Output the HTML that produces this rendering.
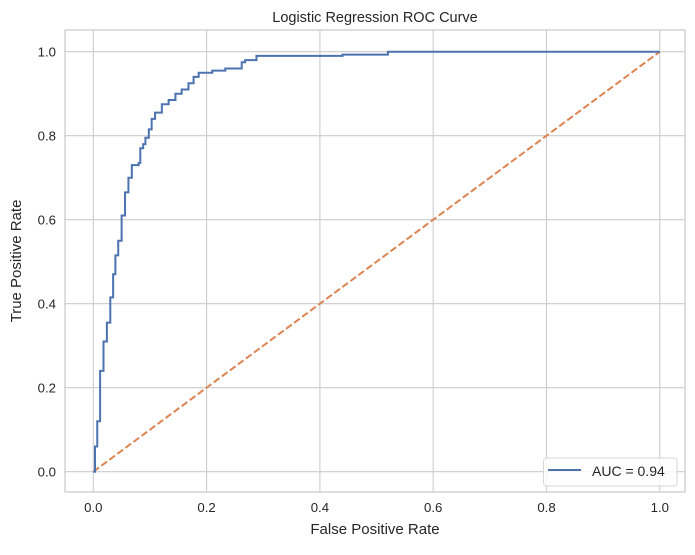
<!DOCTYPE html>
<html><head><meta charset="utf-8"><style>
body{margin:0;background:#fff;}
svg{font-family:"Liberation Sans","DejaVu Sans",sans-serif;}
</style></head><body>
<svg id="c" width="695" height="550"></svg>
<script>
const fpr=[0,0.003,0.007,0.012,0.018,0.024,0.03,0.035,0.039,0.044,0.05,0.056,0.062,0.068,0.08,0.083,0.088,0.092,0.098,0.103,0.109,0.121,0.133,0.145,0.156,0.168,0.177,0.186,0.21,0.233,0.262,0.268,0.288,0.44,0.52,1.0];
const tpr=[0,0.06,0.12,0.24,0.31,0.355,0.415,0.47,0.515,0.55,0.61,0.665,0.70,0.73,0.735,0.77,0.78,0.795,0.815,0.84,0.855,0.875,0.885,0.90,0.91,0.925,0.94,0.95,0.955,0.96,0.975,0.98,0.99,0.993,1.0,1.0];
const xTicks=[0,0.2,0.4,0.6,0.8,1.0];
const yTicks=[0,0.2,0.4,0.6,0.8,1.0];
const NS="http://www.w3.org/2000/svg",svg=document.getElementById('c');
const X=v=>93.3+v*566.5, Y=v=>471.7-v*420;
function mk(t,a,p){const e=document.createElementNS(NS,t);for(const k in a)e.setAttribute(k,a[k]);(p||svg).appendChild(e);return e;}
const fr=mk('rect',{x:65,y:30,width:620,height:462,fill:'#fff',stroke:'#cccccc','stroke-width':1.3});


xTicks.forEach(v=>{
 const g=mk('line',{x1:X(v),x2:X(v),y1:30,y2:492,stroke:'#cccccc','stroke-width':1.1});
 
 
 const t=mk('text',{x:X(v),y:512,'font-size':13.2,'text-anchor':'middle',fill:'#262626'});t.textContent=v.toFixed(1);
 
 
});
yTicks.forEach(v=>{
 const g=mk('line',{x1:65,x2:685,y1:Y(v),y2:Y(v),stroke:'#cccccc','stroke-width':1.1});
 
 
 const t=mk('text',{x:56,y:Y(v)+4.7,'font-size':13.2,'text-anchor':'end',fill:'#262626'});t.textContent=v.toFixed(1);
 
 
});
const dl=mk('line',{x1:X(0),y1:Y(0),x2:X(1),y2:Y(1),stroke:'#dd8452','stroke-width':2,'stroke-dasharray':'7,3'});


let d='M'+X(fpr[0])+','+Y(tpr[0]);
for(let i=1;i<fpr.length;i++){d+=' L'+X(fpr[i])+','+Y(tpr[i-1])+' L'+X(fpr[i])+','+Y(tpr[i]);}
const rc=mk('path',{d:d,fill:'none',stroke:'#4c72b0','stroke-width':2});


const lg=mk('g',{});


mk('rect',{x:543.5,y:458,width:133.5,height:28,rx:3,fill:'#fff','fill-opacity':0.8,stroke:'#d6d6d6'},lg);
mk('line',{x1:548,x2:581,y1:470,y2:470,stroke:'#4c72b0','stroke-width':2},lg);
const lt=mk('text',{x:592,y:476,'font-size':14,fill:'#262626'},lg);lt.textContent='AUC = 0.94';
const tt=mk('text',{x:375,y:22,'font-size':14.5,'text-anchor':'middle',fill:'#262626'});tt.textContent='Logistic Regression ROC Curve';


const xl=mk('text',{x:375,y:534,'font-size':15,'text-anchor':'middle',fill:'#262626'});xl.textContent='False Positive Rate';


const yl=mk('text',{x:21,y:261,'font-size':15,'text-anchor':'middle',fill:'#262626',transform:'rotate(-90 21 261)'});yl.textContent='True Positive Rate';


</script>
</body></html>
